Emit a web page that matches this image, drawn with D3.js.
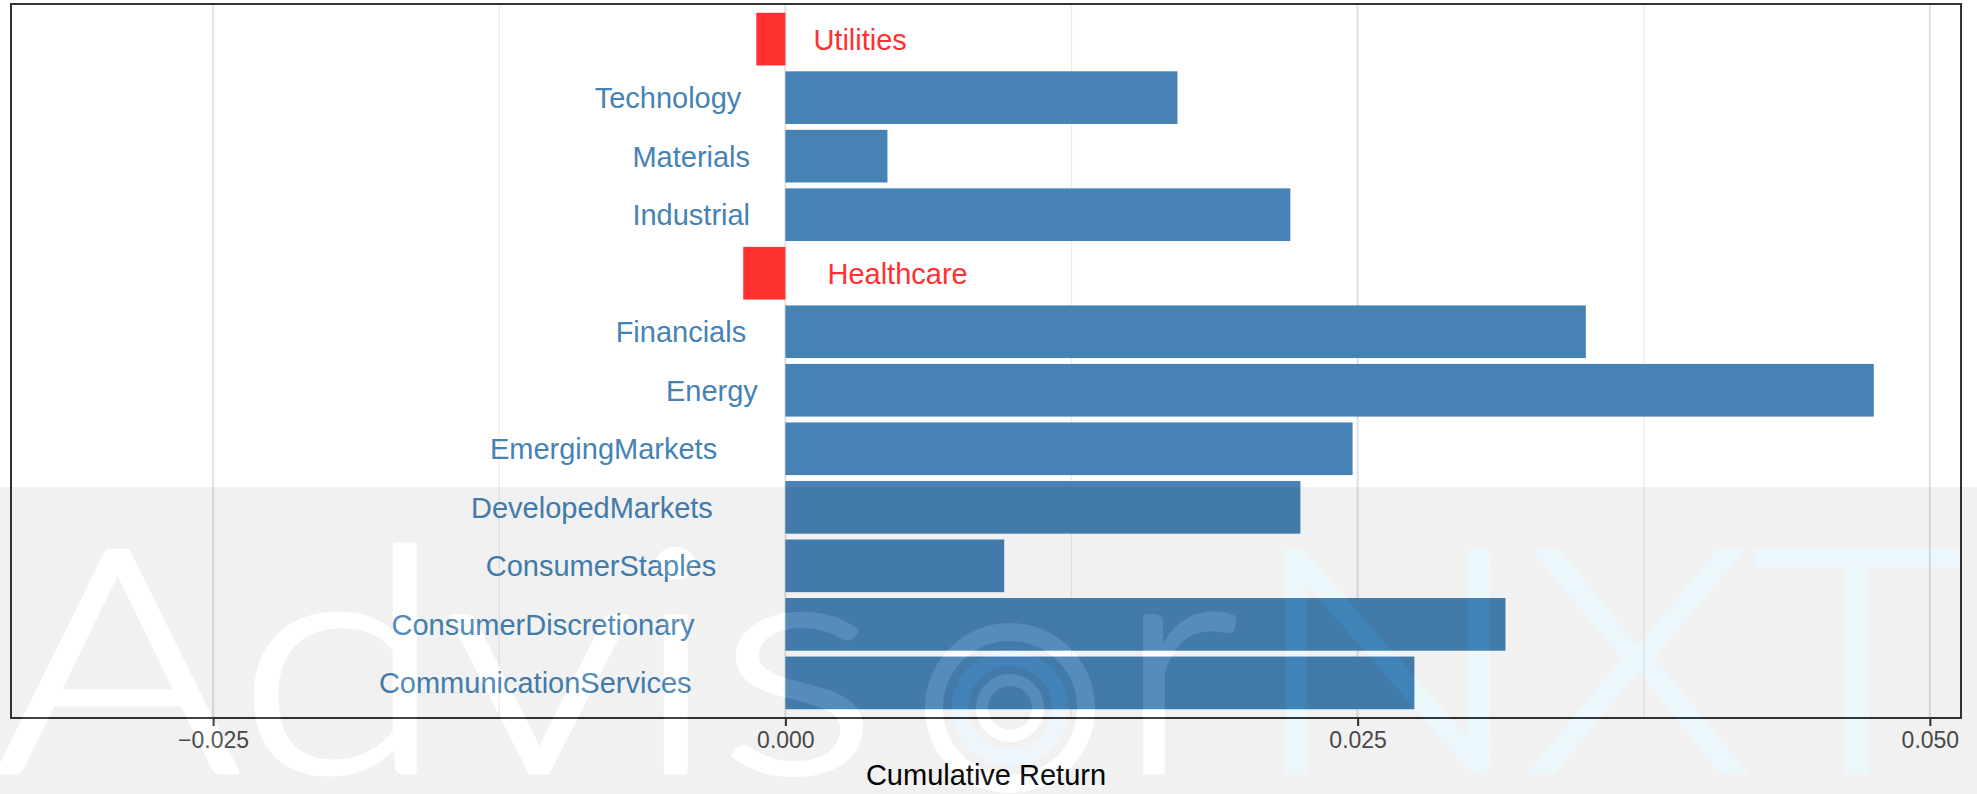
<!DOCTYPE html>
<html>
<head>
<meta charset="utf-8">
<script src="https://cdn.jsdelivr.net/npm/d3@7"></script>
<style>
  body { margin: 0; background: #fff; }
  svg { display: block; font-family: "Liberation Sans", Arial, sans-serif; }
</style>
</head>
<body>
<svg id="chart"></svg>
<script>
var categories = ["Utilities", "Technology", "Materials", "Industrial", "Healthcare", "Financials",
  "Energy", "EmergingMarkets", "DevelopedMarkets", "ConsumerStaples", "ConsumerDiscretionary",
  "CommunicationServices"];
var returns = [-0.00127, 0.01713, 0.00446, 0.02206, -0.00184, 0.03497,
  0.04755, 0.02478, 0.0225, 0.00956, 0.03146, 0.02748];
var majorTicks = [-0.025, 0, 0.025, 0.05];
var minorTicks = [-0.0125, 0.0125, 0.0375];
var axisTitle = "Cumulative Return";

var width = 1977, height = 794;
var panel = { left: 11, right: 1961, top: 4, bottom: 718 };

var svg = d3.select("#chart").attr("width", width).attr("height", height);

var x = d3.scaleLinear().domain([-0.03383, 0.05136]).range([panel.left, panel.right]);
var y = d3.scaleBand().domain(categories).range([panel.top, panel.bottom])
  .paddingInner(0.1).paddingOuter(0.15);

var data = categories.map(function (c, i) { return { name: c, value: returns[i] }; });

// grid
var grid = svg.append("g");
grid.selectAll("line.minor").data(minorTicks).enter().append("line")
  .attr("class", "minor")
  .attr("x1", function (d) { return x(d); }).attr("x2", function (d) { return x(d); })
  .attr("y1", panel.top).attr("y2", panel.bottom)
  .attr("stroke", "#ebebeb").attr("stroke-width", 1.2);
grid.selectAll("line.major").data(majorTicks).enter().append("line")
  .attr("class", "major")
  .attr("x1", function (d) { return x(d); }).attr("x2", function (d) { return x(d); })
  .attr("y1", panel.top).attr("y2", panel.bottom)
  .attr("stroke", "#e3e3e3").attr("stroke-width", 2.2);

// bars
svg.append("g").selectAll("rect").data(data).enter().append("rect")
  .attr("x", function (d) { return x(Math.min(0, d.value)); })
  .attr("width", function (d) { return Math.abs(x(d.value) - x(0)); })
  .attr("y", function (d) { return y(d.name); })
  .attr("height", y.bandwidth())
  .attr("fill", function (d) { return d.value < 0 ? "#ff3030" : "#4682b4"; });

// labels (hjust 1.3 for positives, -0.3 for negatives, anchored at zero)
var labelSize = 29;
svg.append("g").selectAll("text").data(data).enter().append("text")
  .attr("y", function (d) { return y(d.name) + y.bandwidth() / 2 + labelSize * 0.36; })
  .attr("font-size", labelSize)
  .attr("fill", function (d) { return d.value < 0 ? "#ff3030" : "#4682b4"; })
  .text(function (d) { return d.name; })
  .each(function (d) {
    var w = this.getComputedTextLength();
    var x0 = x(0);
    d3.select(this).attr("x", d.value < 0 ? x0 + 0.3 * w : x0 - 1.3 * w);
  });

// panel border
svg.append("rect")
  .attr("x", panel.left).attr("y", panel.top)
  .attr("width", panel.right - panel.left).attr("height", panel.bottom - panel.top)
  .attr("fill", "none").attr("stroke", "#333").attr("stroke-width", 2);

// x axis
var xAxis = d3.axisBottom(x).tickValues(majorTicks).tickFormat(d3.format(".3f")).tickSize(8).tickPadding(6);
var gx = svg.append("g").attr("transform", "translate(0," + panel.bottom + ")").call(xAxis);
gx.select(".domain").remove();
gx.selectAll(".tick line").attr("stroke", "#333").attr("stroke-width", 2);
gx.selectAll(".tick text").attr("fill", "#4d4d4d").attr("font-size", 23)
  .attr("font-family", "Liberation Sans, Arial, sans-serif");

svg.append("text")
  .attr("x", (panel.left + panel.right) / 2).attr("y", 785)
  .attr("text-anchor", "middle").attr("font-size", 29).attr("fill", "#000")
  .text(axisTitle);

// watermark overlay
var wmFont = "Lato, 'Liberation Sans', sans-serif";
var defs = svg.append("defs");
var mask = defs.append("mask").attr("id", "wm-mask")
  .attr("maskUnits", "userSpaceOnUse").attr("x", 0).attr("y", 0).attr("width", width).attr("height", height);
mask.append("rect").attr("x", 0).attr("y", 0).attr("width", width).attr("height", height).attr("fill", "#fff");

function wmText(g, x0, len, txt, col) {
  g.append("text").attr("x", x0).attr("y", 772).attr("font-size", 312).attr("font-weight", 300)
    .attr("font-family", wmFont).attr("textLength", len).attr("lengthAdjust", "spacingAndGlyphs")
    .attr("fill", col).attr("stroke", col).attr("stroke-width", 5).attr("stroke-linejoin", "round")
    .text(txt);
}
function drawMark(g, fillA, fillB, ring) {
  wmText(g, -6, 884, "Advis", fillA);
  g.append("circle").attr("cx", 1010).attr("cy", 708).attr("r", 76)
    .attr("fill", "none").attr("stroke", fillA).attr("stroke-width", 18);
  g.append("circle").attr("cx", 1010).attr("cy", 708).attr("r", 50)
    .attr("fill", "none").attr("stroke", ring).attr("stroke-width", 16);
  g.append("circle").attr("cx", 1010).attr("cy", 708).attr("r", 28)
    .attr("fill", "none").attr("stroke", fillA).attr("stroke-width", 12);
  wmText(g, 1118, 120, "r", fillA);
  wmText(g, 1250, 712, "NXT", fillB);
}
drawMark(mask.append("g"), "#000", "#000", "#000");

svg.append("rect").attr("x", 0).attr("y", 487).attr("width", width).attr("height", height - 487)
  .attr("fill", "#000").attr("fill-opacity", 0.055).attr("mask", "url(#wm-mask)");

var wm = svg.append("g");
drawMark(wm.append("g").attr("opacity", 0.08), "#fff", "none", "none");
drawMark(wm.append("g").attr("opacity", 0.07), "none", "#0096dc", "#2a8fd0");
</script>
</body>
</html>
